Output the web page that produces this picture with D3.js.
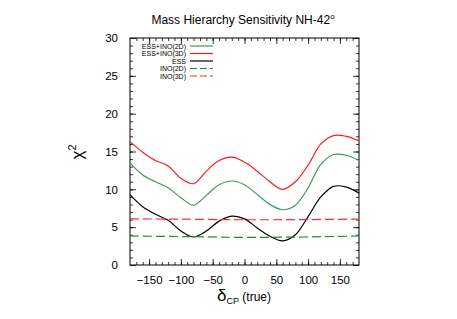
<!DOCTYPE html>
<html>
<head>
<meta charset="utf-8">
<script src="https://cdn.jsdelivr.net/npm/d3@7"></script>
<style>
body { margin: 0; background: #fff; }
text { font-family: "Liberation Sans", Arial, sans-serif; fill: #000; }
</style>
</head>
<body>
<svg width="457" height="319"></svg>
<script>
var margin = { top: 38, left: 130, right: 98, bottom: 54 };
var width = 457 - margin.left - margin.right;
var height = 319 - margin.top - margin.bottom;

// delta_CP grid (degrees)
var deltas = [-180, -160, -140, -120, -100, -80, -60, -40, -20, 0, 20, 40, 60, 80, 100, 120, 140, 160, 180];
var essIno3D = [16.3, 14.9, 13.8, 13.1, 11.45, 10.75, 12.4, 13.8, 14.25, 13.6, 12.4, 11.0, 10.0, 11.0, 13.2, 16.0, 17.1, 17.0, 16.4];
var essIno2D = [13.5, 11.9, 11.0, 10.2, 8.9, 7.9, 9.2, 10.6, 11.1, 10.6, 9.3, 8.0, 7.3, 7.9, 10.2, 13.3, 14.6, 14.5, 13.8];
var ess      = [9.3, 7.7, 6.7, 5.9, 4.5, 3.7, 4.5, 5.8, 6.45, 6.1, 4.9, 3.8, 3.2, 4.0, 6.4, 9.0, 10.4, 10.3, 9.5];
var inoDeltas = [-180, -90, 0, 90, 180];
var ino3D = [6.1, 6.05, 5.98, 6.0, 6.07];
var ino2D = [3.83, 3.75, 3.65, 3.7, 3.83];

var xTicks = [-150, -100, -50, 0, 50, 100, 150];
var yTicks = [0, 5, 10, 15, 20, 25, 30];

var series = [
    { name: "ESS+INO(2D)", x: deltas, y: essIno2D, color: "#3a9a5c", dash: null },
    { name: "ESS+INO(3D)", x: deltas, y: essIno3D, color: "#ff1a1a", dash: null },
    { name: "ESS", x: deltas, y: ess, color: "#000000", dash: null },
    { name: "INO(2D)", x: inoDeltas, y: ino2D, color: "#1f8a3c", dash: "9,4" },
    { name: "INO(3D)", x: inoDeltas, y: ino3D, color: "#ff2a2a", dash: "9,4" }
];

var svg = d3.select("svg");
var g = svg.append("g")
    .attr("transform", "translate(" + margin.left + "," + margin.top + ")");

var x = d3.scaleLinear().domain([-180, 180]).range([0, width]);
var y = d3.scaleLinear().domain([0, 30]).range([height, 0]);

// minor ticks on all sides, pointing in
var xMinor = d3.range(-170, 180, 10);
var yMinor = d3.range(1, 30, 1);
g.append("g").attr("transform", "translate(0," + height + ")")
    .call(d3.axisBottom(x).tickValues(xMinor).tickSize(-3).tickFormat(""));
g.append("g")
    .call(d3.axisTop(x).tickValues(xMinor).tickSize(-3).tickFormat(""));
g.append("g")
    .call(d3.axisLeft(y).tickValues(yMinor).tickSize(-3).tickFormat(""));
g.append("g").attr("transform", "translate(" + width + ",0)")
    .call(d3.axisRight(y).tickValues(yMinor).tickSize(-3).tickFormat(""));

// major
g.append("g").attr("class", "xmaj").attr("transform", "translate(0," + height + ")")
    .call(d3.axisBottom(x).tickValues(xTicks).tickSize(-6).tickPadding(11));
g.append("g")
    .call(d3.axisTop(x).tickValues(xTicks).tickSize(-6).tickFormat(""));
g.append("g").attr("class", "ymaj")
    .call(d3.axisLeft(y).tickValues(yTicks).tickSize(-6).tickPadding(12));
g.append("g").attr("transform", "translate(" + width + ",0)")
    .call(d3.axisRight(y).tickValues(yTicks).tickSize(-6).tickFormat(""));

g.selectAll(".domain").remove();
g.selectAll(".tick line").attr("stroke", "#000").attr("stroke-width", 0.8);
g.selectAll(".xmaj text, .ymaj text")
    .attr("fill", "#000")
    .style("font-size", "11.5px")
    .style("font-family", "Liberation Sans, Arial, sans-serif");

g.append("rect")
    .attr("width", width).attr("height", height)
    .attr("fill", "none").attr("stroke", "#000").attr("stroke-width", 1);

var line = d3.line().curve(d3.curveCatmullRom.alpha(0.5));

series.forEach(function(s) {
    g.append("path")
        .datum(s.x.map(function(d, i) { return [x(d), y(s.y[i])]; }))
        .attr("d", line)
        .attr("fill", "none")
        .attr("stroke", s.color)
        .attr("stroke-width", 1.2)
        .attr("stroke-dasharray", s.dash);
});

// legend
var leg = g.append("g").attr("transform", "translate(56,8)");
series.forEach(function(s, i) {
    var row = leg.append("g").attr("transform", "translate(0," + (i * 7.5) + ")");
    row.append("text")
        .attr("x", 0).attr("y", 2.5)
        .attr("text-anchor", "end")
        .style("font-size", "7px")
        .text(s.name);
    row.append("line")
        .attr("x1", 4).attr("x2", 27)
        .attr("stroke", s.color)
        .attr("stroke-width", 1.2)
        .attr("stroke-dasharray", s.dash ? "7,3" : null);
});

// title
var title = svg.append("text")
    .attr("x", 243).attr("y", 24)
    .attr("text-anchor", "middle")
    .style("font-size", "12px");
title.append("tspan").text("Mass Hierarchy Sensitivity NH-42");
title.append("tspan").attr("dy", -5).style("font-size", "8px").text("o");

// y label
svg.append("text")
    .attr("transform", "translate(83,152) rotate(-90)")
    .attr("text-anchor", "middle")
    .style("font-size", "17px")
    .html("&#967;<tspan dy='-7' font-size='11px'>2</tspan>");

// x label
var xl = svg.append("text")
    .attr("x", 244).attr("y", 301)
    .attr("text-anchor", "middle")
    .style("font-size", "12px");
xl.append("tspan").style("font-size", "17px").text("δ");
xl.append("tspan").attr("dy", 3).style("font-size", "9px").text("CP");
xl.append("tspan").attr("dy", -3).text(" (true)");
</script>
</body>
</html>
